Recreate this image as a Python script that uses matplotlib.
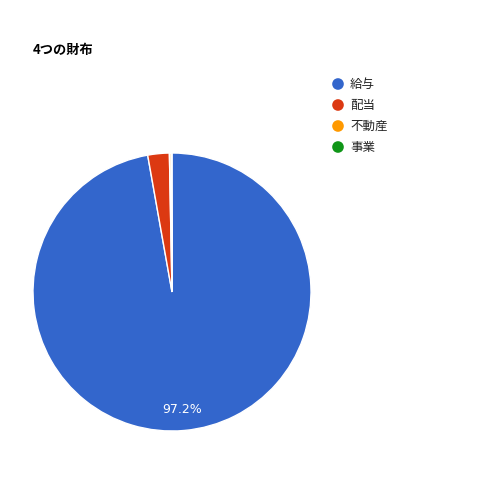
import matplotlib
matplotlib.use("Agg")
import matplotlib.pyplot as plt

plt.rcParams['font.family'] = ['Noto Sans CJK JP', 'DejaVu Sans']

title = "4つの財布"
categories = ["給与", "配当", "不動産", "事業"]
values = [97.2, 2.5, 0.2, 0.1]
colors = ["#3366cc", "#dc3912", "#ff9900", "#109618"]

fig = plt.figure(figsize=(5, 5), dpi=100)
fig.patch.set_facecolor("white")

ax = fig.add_axes([0.066, 0.138, 0.556, 0.556])

def fmt(p):
    return f"{p:.1f}%" if p >= 5 else ""

wedges, texts, autotexts = ax.pie(
    values, colors=colors, startangle=90, counterclock=False,
    autopct=fmt, pctdistance=0.85,
    wedgeprops=dict(edgecolor="white", linewidth=1),
    textprops=dict(color="white", fontsize=9, family=["DejaVu Sans"]))
ax.set_xlim(-1, 1)
ax.set_ylim(-1, 1)
ax.set_aspect("equal")

ov = fig.add_axes([0, 0, 1, 1])
ov.set_xlim(0, 500)
ov.set_ylim(500, 0)
ov.axis("off")
ov.patch.set_alpha(0)

ov.text(33, 50, title, fontsize=9.5, fontweight="bold", va="center", ha="left", color="#000000")

for i, (c, col) in enumerate(zip(categories, colors)):
    y = 84 + i * 21
    ov.scatter([338], [y], s=70, color=col, edgecolors="none")
    ov.text(350, y, c, fontsize=9, va="center", ha="left", color="#222222")

fig.savefig("out.png", dpi=100, facecolor="white")
